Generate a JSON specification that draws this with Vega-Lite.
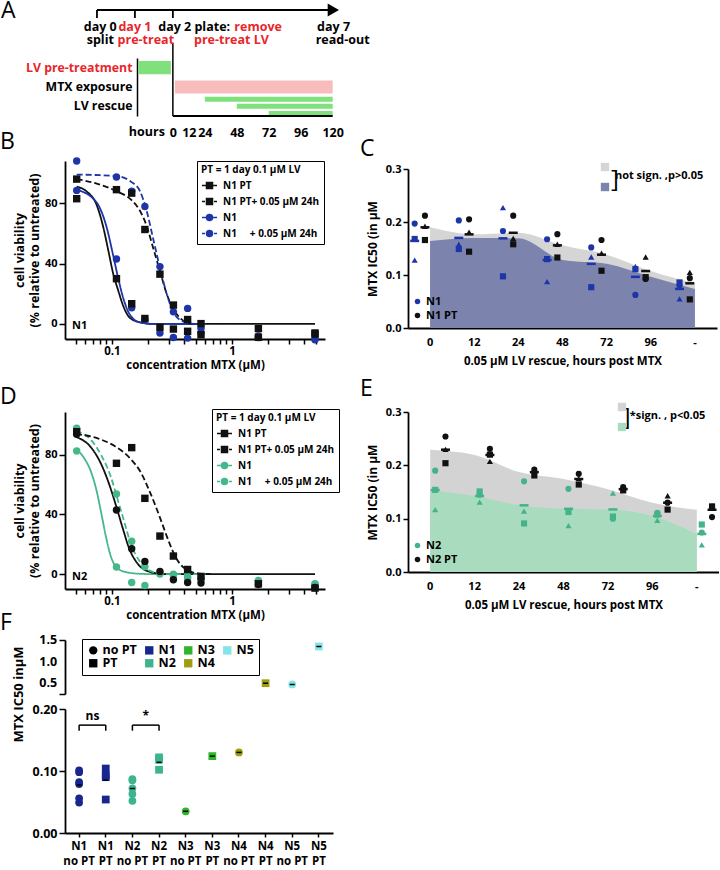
{
"$schema": "https://vega.github.io/schema/vega-lite/v6.json",
"padding": 0,
"config": {
  "font": "Open Sans",
  "view": {"stroke": null},
  "axis": {"labelFont": "Open Sans", "labelFontWeight": "bold", "labelFontSize": 11, "labelColor": "#000", "titleFont": "Open Sans", "titleFontWeight": "bold", "titleFontSize": 11.5, "titleColor": "#000", "domainColor": "#000", "domainWidth": 1.8, "tickColor": "#000", "tickWidth": 1.5, "tickSize": 5, "grid": false, "labelPadding": 2, "labelFlush": false, "labelOverlap": false},
  "legend": {"labelFont": "Open Sans", "labelFontWeight": "bold", "labelColor": "#000", "titleFont": "Open Sans", "titleColor": "#000"},
  "title": {"font": "Open Sans", "fontWeight": "normal", "fontSize": 23, "anchor": "start", "color": "#000", "frame": "group"}
},
"datasets": {
  "aText": [
    {"t": "day 0", "hour": -54.5, "row": 1, "kind": "plain"},
    {"t": "split", "hour": -54.5, "row": 2, "kind": "plain"},
    {"t": "day 1", "hour": -28.5, "row": 1, "kind": "emph"},
    {"t": "pre-treat", "hour": -20.3, "row": 2, "kind": "emph"},
    {"t": "day 2 plate:", "hour": 16, "row": 1, "kind": "plain"},
    {"t": "remove", "hour": 64, "row": 1, "kind": "emph"},
    {"t": "pre-treat LV", "hour": 44, "row": 2, "kind": "emph"},
    {"t": "day 7", "hour": 120.7, "row": 1, "kind": "plain"},
    {"t": "read-out", "hour": 127.5, "row": 2, "kind": "plain"}
  ],
  "bCurve": [
    {"s":"PT","c":0.0508,"v":91},{"s":"PT","c":0.0615,"v":87.8},{"s":"PT","c":0.0745,"v":78.9},{"s":"PT","c":0.0847,"v":64},{"s":"PT","c":0.0932,"v":48.7},{"s":"PT","c":0.1026,"v":33},{"s":"PT","c":0.1129,"v":22},{"s":"PT","c":0.1243,"v":11.8},{"s":"PT","c":0.1413,"v":4},{"s":"PT","c":0.1711,"v":1.1},{"s":"PT","c":0.2211,"v":0},{"s":"PT","c":4.92,"v":0},
    {"s":"N","c":0.0508,"v":89},{"s":"N","c":0.0745,"v":80.5},{"s":"N","c":0.0903,"v":64},{"s":"N","c":0.1026,"v":45},{"s":"N","c":0.1129,"v":30},{"s":"N","c":0.1243,"v":17},{"s":"N","c":0.1413,"v":6},{"s":"N","c":0.1711,"v":1},{"s":"N","c":0.2211,"v":0},{"s":"N","c":0.6,"v":0},
    {"s":"PTLV","c":0.0508,"v":96},{"s":"PTLV","c":0.0745,"v":93},{"s":"PTLV","c":0.109,"v":88},{"s":"PTLV","c":0.1458,"v":82},{"s":"PTLV","c":0.1711,"v":75},{"s":"PTLV","c":0.1945,"v":65},{"s":"PTLV","c":0.2211,"v":50},{"s":"PTLV","c":0.2512,"v":35},{"s":"PTLV","c":0.2855,"v":20},{"s":"PTLV","c":0.3245,"v":10},{"s":"PTLV","c":0.3809,"v":3},{"s":"PTLV","c":0.4762,"v":0},{"s":"PTLV","c":0.6,"v":0},
    {"s":"NLV","c":0.0508,"v":99},{"s":"NLV","c":0.109,"v":98},{"s":"NLV","c":0.1458,"v":94},{"s":"NLV","c":0.1711,"v":88},{"s":"NLV","c":0.1945,"v":75},{"s":"NLV","c":0.2211,"v":56},{"s":"NLV","c":0.2512,"v":37},{"s":"NLV","c":0.2855,"v":20},{"s":"NLV","c":0.3245,"v":8},{"s":"NLV","c":0.3809,"v":2},{"s":"NLV","c":0.4762,"v":0},{"s":"NLV","c":0.6,"v":0}
  ],
  "bPts": [
    {"s":"N","c":0.0508,"v":88.5},{"s":"N","c":0.109,"v":43},{"s":"N","c":0.146,"v":10.7},{"s":"N","c":0.188,"v":3},{"s":"N","c":0.251,"v":-6},{"s":"N","c":0.325,"v":-9},{"s":"N","c":0.427,"v":-9.4},{"s":"N","c":0.552,"v":-3},{"s":"N","c":1.66,"v":-9},{"s":"N","c":4.92,"v":-10.5},
    {"s":"NLV","c":0.0508,"v":108},{"s":"NLV","c":0.109,"v":97.4},{"s":"NLV","c":0.146,"v":88},{"s":"NLV","c":0.188,"v":77.8},{"s":"NLV","c":0.251,"v":38},{"s":"NLV","c":0.325,"v":8},{"s":"NLV","c":0.427,"v":10.3},{"s":"NLV","c":0.552,"v":-6},{"s":"NLV","c":1.66,"v":-8},{"s":"NLV","c":4.92,"v":-10},
    {"s":"PT","c":0.0508,"v":83},{"s":"PT","c":0.109,"v":30},{"s":"PT","c":0.146,"v":13.4},{"s":"PT","c":0.188,"v":3.6},{"s":"PT","c":0.251,"v":-2.2},{"s":"PT","c":0.325,"v":-3.4},{"s":"PT","c":0.427,"v":-4.9},{"s":"PT","c":0.552,"v":-7.2},{"s":"PT","c":1.66,"v":-8.9},{"s":"PT","c":4.92,"v":-6.7},
    {"s":"PTLV","c":0.0508,"v":96},{"s":"PTLV","c":0.109,"v":89},{"s":"PTLV","c":0.146,"v":86.7},{"s":"PTLV","c":0.188,"v":62.6},{"s":"PTLV","c":0.251,"v":33},{"s":"PTLV","c":0.325,"v":12.5},{"s":"PTLV","c":0.427,"v":2.9},{"s":"PTLV","c":0.552,"v":0.2},{"s":"PTLV","c":1.66,"v":-3.1},{"s":"PTLV","c":4.92,"v":-6}
  ],
  "dCurve": [
    {"s":"N","c":0.0501,"v":84},{"s":"N","c":0.0588,"v":77.6},{"s":"N","c":0.0668,"v":68.7},{"s":"N","c":0.0736,"v":57.5},{"s":"N","c":0.081,"v":41.8},{"s":"N","c":0.0891,"v":25},{"s":"N","c":0.0981,"v":11.6},{"s":"N","c":0.108,"v":4.9},{"s":"N","c":0.1266,"v":1.6},{"s":"N","c":0.1637,"v":0.3},{"s":"N","c":0.2112,"v":0},{"s":"N","c":0.6,"v":0},
    {"s":"PT","c":0.0501,"v":92},{"s":"PT","c":0.0668,"v":85},{"s":"PT","c":0.081,"v":74},{"s":"PT","c":0.095,"v":60},{"s":"PT","c":0.108,"v":46},{"s":"PT","c":0.1227,"v":31},{"s":"PT","c":0.1394,"v":17},{"s":"PT","c":0.1637,"v":7},{"s":"PT","c":0.1982,"v":2},{"s":"PT","c":0.2728,"v":0},{"s":"PT","c":4.92,"v":0},
    {"s":"NLV","c":0.0501,"v":96},{"s":"NLV","c":0.0668,"v":90},{"s":"NLV","c":0.081,"v":80},{"s":"NLV","c":0.0981,"v":65},{"s":"NLV","c":0.1115,"v":50},{"s":"NLV","c":0.1266,"v":35},{"s":"NLV","c":0.144,"v":20},{"s":"NLV","c":0.169,"v":9},{"s":"NLV","c":0.1982,"v":3},{"s":"NLV","c":0.2728,"v":0},{"s":"NLV","c":0.6,"v":0},
    {"s":"PTLV","c":0.0501,"v":94},{"s":"PTLV","c":0.076,"v":91},{"s":"PTLV","c":0.1046,"v":86},{"s":"PTLV","c":0.144,"v":77},{"s":"PTLV","c":0.1745,"v":68},{"s":"PTLV","c":0.2046,"v":56},{"s":"PTLV","c":0.2325,"v":45},{"s":"PTLV","c":0.2643,"v":33},{"s":"PTLV","c":0.3003,"v":21},{"s":"PTLV","c":0.341,"v":11},{"s":"PTLV","c":0.4,"v":4},{"s":"PTLV","c":0.517,"v":0.5},{"s":"PTLV","c":0.668,"v":0}
  ],
  "dPts": [
    {"s":"N","c":0.0508,"v":82.5},{"s":"N","c":0.109,"v":4.7},{"s":"N","c":0.146,"v":-5.6},{"s":"N","c":0.188,"v":-7.6},{"s":"N","c":0.251,"v":0},{"s":"N","c":0.325,"v":0},{"s":"N","c":0.427,"v":-1.6},{"s":"N","c":0.552,"v":-3},{"s":"N","c":1.66,"v":-4.2},{"s":"N","c":4.92,"v":-6.5},
    {"s":"NLV","c":0.0508,"v":97.8},{"s":"NLV","c":0.109,"v":53.7},{"s":"NLV","c":0.146,"v":22},{"s":"NLV","c":0.188,"v":5},{"s":"NLV","c":0.251,"v":1},{"s":"NLV","c":0.325,"v":-1},{"s":"NLV","c":0.427,"v":-3},{"s":"NLV","c":0.552,"v":-4},{"s":"NLV","c":1.66,"v":-5},{"s":"NLV","c":4.92,"v":-7},
    {"s":"PT","c":0.0508,"v":93.7},{"s":"PT","c":0.109,"v":43},{"s":"PT","c":0.146,"v":17},{"s":"PT","c":0.188,"v":8.5},{"s":"PT","c":0.251,"v":1.8},{"s":"PT","c":0.325,"v":-3.8},{"s":"PT","c":0.427,"v":-5.6},{"s":"PT","c":0.552,"v":-6},{"s":"PT","c":1.66,"v":-7},{"s":"PT","c":4.92,"v":-9},
    {"s":"PTLV","c":0.0508,"v":95.5},{"s":"PTLV","c":0.109,"v":74.3},{"s":"PTLV","c":0.146,"v":84.8},{"s":"PTLV","c":0.188,"v":50.8},{"s":"PTLV","c":0.251,"v":25.5},{"s":"PTLV","c":0.325,"v":12.1},{"s":"PTLV","c":0.427,"v":3.1},{"s":"PTLV","c":0.552,"v":-1.6},{"s":"PTLV","c":1.66,"v":-6.5},{"s":"PTLV","c":4.92,"v":-9.4}
  ],
  "cPts": [
    {"t":"0","g":"N1 PT","r":"c","v":0.212},{"t":"0","g":"N1 PT","r":"s","v":0.166},{"t":"0","g":"N1 PT","r":"t","v":0.192},
    {"t":"12","g":"N1 PT","r":"c","v":0.205},{"t":"12","g":"N1 PT","r":"s","v":0.144},{"t":"12","g":"N1 PT","r":"t","v":0.181},
    {"t":"24","g":"N1 PT","r":"c","v":0.212},{"t":"24","g":"N1 PT","r":"s","v":0.158},{"t":"24","g":"N1 PT","r":"t","v":0.169},
    {"t":"48","g":"N1 PT","r":"c","v":0.177},{"t":"48","g":"N1 PT","r":"s","v":0.133},{"t":"48","g":"N1 PT","r":"t","v":0.158},
    {"t":"72","g":"N1 PT","r":"c","v":0.166},{"t":"72","g":"N1 PT","r":"s","v":0.108},{"t":"72","g":"N1 PT","r":"t","v":0.141},
    {"t":"96","g":"N1 PT","r":"c","v":0.0925},{"t":"96","g":"N1 PT","r":"s","v":0.096},{"t":"96","g":"N1 PT","r":"t","v":0.134},
    {"t":"-","g":"N1 PT","r":"c","v":0.094},{"t":"-","g":"N1 PT","r":"s","v":0.054},{"t":"-","g":"N1 PT","r":"t","v":0.105},
    {"t":"0","g":"N1","r":"c","v":0.197},{"t":"0","g":"N1","r":"s","v":0.168},{"t":"0","g":"N1","r":"t","v":0.128},
    {"t":"12","g":"N1","r":"c","v":0.203},{"t":"12","g":"N1","r":"s","v":0.149},{"t":"12","g":"N1","r":"t","v":0.158},
    {"t":"24","g":"N1","r":"c","v":0.183},{"t":"24","g":"N1","r":"s","v":0.0975},{"t":"24","g":"N1","r":"t","v":0.227},
    {"t":"48","g":"N1","r":"c","v":0.1675},{"t":"48","g":"N1","r":"s","v":0.13},{"t":"48","g":"N1","r":"t","v":0.0875},
    {"t":"72","g":"N1","r":"c","v":0.152},{"t":"72","g":"N1","r":"s","v":0.077},{"t":"72","g":"N1","r":"t","v":0.134},
    {"t":"96","g":"N1","r":"c","v":0.0625},{"t":"96","g":"N1","r":"s","v":0.111},{"t":"96","g":"N1","r":"t","v":0.116},
    {"t":"-","g":"N1","r":"c","v":0.08},{"t":"-","g":"N1","r":"s","v":0.086},{"t":"-","g":"N1","r":"t","v":0.055}
  ],
  "ePts": [
    {"t":"0","g":"N2 PT","r":"c","v":0.254},{"t":"0","g":"N2 PT","r":"s","v":0.204},{"t":"0","g":"N2 PT","r":"t","v":0.23},
    {"t":"12","g":"N2 PT","r":"c","v":0.231},{"t":"12","g":"N2 PT","r":"s","v":0.22},{"t":"12","g":"N2 PT","r":"t","v":0.2075},
    {"t":"24","g":"N2 PT","r":"c","v":0.192},{"t":"24","g":"N2 PT","r":"s","v":0.181},{"t":"24","g":"N2 PT","r":"t","v":0.189},
    {"t":"48","g":"N2 PT","r":"c","v":0.184},{"t":"48","g":"N2 PT","r":"s","v":0.164},{"t":"48","g":"N2 PT","r":"t","v":0.175},
    {"t":"72","g":"N2 PT","r":"c","v":0.159},{"t":"72","g":"N2 PT","r":"s","v":0.153},{"t":"72","g":"N2 PT","r":"t","v":0.154},
    {"t":"96","g":"N2 PT","r":"c","v":0.13},{"t":"96","g":"N2 PT","r":"s","v":0.117},{"t":"96","g":"N2 PT","r":"t","v":0.143},
    {"t":"-","g":"N2 PT","r":"c","v":0.103},{"t":"-","g":"N2 PT","r":"s","v":0.123},{"t":"-","g":"N2 PT","r":"t","v":0.124},
    {"t":"0","g":"N2","r":"c","v":0.19},{"t":"0","g":"N2","r":"s","v":0.154},{"t":"0","g":"N2","r":"t","v":0.117},
    {"t":"12","g":"N2","r":"c","v":0.145},{"t":"12","g":"N2","r":"s","v":0.151},{"t":"12","g":"N2","r":"t","v":0.131},
    {"t":"24","g":"N2","r":"c","v":0.17},{"t":"24","g":"N2","r":"s","v":0.091},{"t":"24","g":"N2","r":"t","v":0.114},
    {"t":"48","g":"N2","r":"c","v":0.156},{"t":"48","g":"N2","r":"s","v":0.1125},{"t":"48","g":"N2","r":"t","v":0.087},
    {"t":"72","g":"N2","r":"c","v":0.1},{"t":"72","g":"N2","r":"s","v":0.104},{"t":"72","g":"N2","r":"t","v":0.148},
    {"t":"96","g":"N2","r":"c","v":0.111},{"t":"96","g":"N2","r":"s","v":0.1075},{"t":"96","g":"N2","r":"t","v":0.097},
    {"t":"-","g":"N2","r":"c","v":0.074},{"t":"-","g":"N2","r":"s","v":0.089},{"t":"-","g":"N2","r":"t","v":0.051}
  ],
  "fPts": [
    {"cat":"N1|no PT","line":"N1","pt":"no PT","v":0.101},{"cat":"N1|no PT","line":"N1","pt":"no PT","v":0.098},{"cat":"N1|no PT","line":"N1","pt":"no PT","v":0.082},{"cat":"N1|no PT","line":"N1","pt":"no PT","v":0.079},{"cat":"N1|no PT","line":"N1","pt":"no PT","v":0.056},{"cat":"N1|no PT","line":"N1","pt":"no PT","v":0.049},
    {"cat":"N1|PT","line":"N1","pt":"PT","v":0.104},{"cat":"N1|PT","line":"N1","pt":"PT","v":0.093},{"cat":"N1|PT","line":"N1","pt":"PT","v":0.09},{"cat":"N1|PT","line":"N1","pt":"PT","v":0.054},
    {"cat":"N2|no PT","line":"N2","pt":"no PT","v":0.087},{"cat":"N2|no PT","line":"N2","pt":"no PT","v":0.085},{"cat":"N2|no PT","line":"N2","pt":"no PT","v":0.072},{"cat":"N2|no PT","line":"N2","pt":"no PT","v":0.063},{"cat":"N2|no PT","line":"N2","pt":"no PT","v":0.052},
    {"cat":"N2|PT","line":"N2","pt":"PT","v":0.122},{"cat":"N2|PT","line":"N2","pt":"PT","v":0.118},{"cat":"N2|PT","line":"N2","pt":"PT","v":0.102},
    {"cat":"N3|no PT","line":"N3","pt":"no PT","v":0.035},
    {"cat":"N3|PT","line":"N3","pt":"PT","v":0.124},
    {"cat":"N4|no PT","line":"N4","pt":"no PT","v":0.13},
    {"cat":"N4|PT","line":"N4","pt":"PT","v":0.5},
    {"cat":"N5|no PT","line":"N5","pt":"no PT","v":0.47},
    {"cat":"N5|PT","line":"N5","pt":"PT","v":1.35}
  ],
  "fKeys": [{"key":"no PT"},{"key":"PT"},{"key":"N1"},{"key":"N2"},{"key":"N3"},{"key":"N4"},{"key":"N5"}],
  "fBr": [{"a":"N1|no PT","b":"N1|PT","lab":"ns"},{"a":"N2|no PT","b":"N2|PT","lab":"*"}],
  "fUpTicks": [{"v":0.5,"lab":"0.5"},{"v":1,"lab":"1.0"},{"v":1.5,"lab":"1.5"}]
},
"bounds": "flush",
"columns": 2,
"spacing": {"row": 0, "column": 70},
"resolve": {"scale": {"color": "independent", "fill": "independent", "stroke": "independent", "shape": "independent", "strokeDash": "independent", "opacity": "independent", "size": "independent"}},
"concat": [
  {"width": 273, "height": 48,
   "title": {"text": "A", "dx": -64, "offset": -20},
   "layer": [
    {"data": {"values": [{}]}, "mark": {"type": "rule", "strokeWidth": 1.8, "color": "#000"},
     "encoding": {"x": {"datum": -57, "type": "quantitative", "scale": {"domain": [-81, 124], "nice": false}, "axis": null}, "x2": {"datum": 118}, "y": {"datum": 1, "type": "quantitative", "scale": {"domain": [0, 1], "nice": false}, "axis": null}}},
    {"data": {"values": [{}]}, "mark": {"type": "point", "shape": "triangle-right", "filled": true, "size": 170, "color": "#000", "opacity": 1},
     "encoding": {"x": {"datum": 120.5}, "y": {"datum": 1}}},
    {"data": {"values": [{"day": "day 0", "hour": -57}, {"day": "day 1", "hour": -28.5}, {"day": "day 2", "hour": 0}]},
     "mark": {"type": "rule", "strokeWidth": 1.8, "color": "#000"},
     "encoding": {"x": {"field": "hour", "type": "quantitative"}, "y": {"datum": 1}, "y2": {"datum": 0.833}}},
    {"data": {"values": [{}]}, "mark": {"type": "rule", "strokeWidth": 1.5, "color": "#000"},
     "encoding": {"x": {"datum": 0}, "y": {"datum": 0.3125}, "y2": {"datum": 0}}},
    {"data": {"name": "aText"}, "transform": [{"filter": "datum.row == 1"}],
     "mark": {"type": "text", "fontWeight": "bold", "fontSize": 12.5, "baseline": "middle"},
     "encoding": {"x": {"field": "hour", "type": "quantitative"}, "y": {"datum": 0.64}, "text": {"field": "t"},
       "color": {"field": "kind", "type": "nominal", "scale": {"domain": ["plain", "emph"], "range": ["#000", "#e8262b"]}, "legend": null}}},
    {"data": {"name": "aText"}, "transform": [{"filter": "datum.row == 2"}],
     "mark": {"type": "text", "fontWeight": "bold", "fontSize": 12.5, "baseline": "middle"},
     "encoding": {"x": {"field": "hour", "type": "quantitative"}, "y": {"datum": 0.38}, "text": {"field": "t"},
       "color": {"field": "kind", "type": "nominal", "legend": null}}}
   ]},
  {"width": 1, "height": 1, "data": {"values": []}, "mark": "point"},
  {"width": 273, "height": 58,
   "layer": [
    {"data": {"values": [{"lane": "LV pre-treatment", "agent": "LV", "start": -26, "end": -1.5}, {"lane": "MTX exposure", "agent": "MTX", "start": 1.5, "end": 120}]},
     "mark": {"type": "bar", "height": {"band": 0.68}},
     "encoding": {
      "x": {"field": "start", "type": "quantitative", "scale": {"domain": [-81, 124], "nice": false},
            "axis": {"values": [0, 12, 24, 48, 72, 96, 120], "domain": false, "ticks": false, "title": null, "labelPadding": 10, "labelFontSize": 12.5, "labelOverlap": false}},
      "x2": {"field": "end"},
      "y": {"field": "lane", "type": "nominal", "scale": {"domain": ["LV pre-treatment", "MTX exposure", "LV rescue"], "paddingInner": 0, "paddingOuter": 0},
            "axis": {"title": null, "offset": -72, "ticks": false, "domain": true, "domainWidth": 1.5, "labelPadding": 5, "labelFontSize": 12.3,
                     "labelColor": {"condition": {"test": "datum.value === 'LV pre-treatment'", "value": "#e8262b"}, "value": "#000"}}},
      "color": {"field": "agent", "type": "nominal", "scale": {"domain": ["LV", "MTX"], "range": ["#80e07c", "#f9bcbc"]}, "legend": null}}},
    {"data": {"values": [{"lane": "LV rescue", "agent": "LV", "start": 24, "end": 120}, {"lane": "LV rescue", "agent": "LV", "start": 48, "end": 120}, {"lane": "LV rescue", "agent": "LV", "start": 72, "end": 120}]},
     "mark": {"type": "bar"},
     "encoding": {"x": {"field": "start", "type": "quantitative"}, "x2": {"field": "end"}, "y": {"field": "lane", "type": "nominal"},
       "yOffset": {"field": "start", "type": "ordinal", "scale": {"paddingInner": 0.3, "paddingOuter": 0}},
       "color": {"field": "agent", "type": "nominal", "legend": null}}},
    {"data": {"values": [{}]}, "mark": {"type": "rule", "strokeWidth": 1.5, "color": "#000"}, "encoding": {"x": {"datum": 0}}},
    {"data": {"values": [{}]}, "mark": {"type": "rule", "strokeWidth": 1.8, "color": "#000"}, "encoding": {"x": {"datum": 0}, "x2": {"datum": 120}, "y": {"value": "height"}}},
    {"data": {"values": [{}]}, "mark": {"type": "text", "text": "hours", "fontSize": 12.5, "fontWeight": "bold", "baseline": "top", "dy": 10},
     "encoding": {"x": {"datum": -19.5}, "y": {"value": "height"}}}
   ]},
  {"width": 1, "height": 1, "data": {"values": []}, "mark": "point"},
  {"width": 1, "height": 45, "data": {"values": []}, "mark": "point"},
  {"width": 1, "height": 1, "data": {"values": []}, "mark": "point"},
  {"width": 260, "height": 178,
   "title": {"text": "B", "dx": -65, "dy": 1},
   "resolve": {"scale": {"shape": "independent", "fill": "independent", "stroke": "independent"}},
   "layer": [
    {"data": {"name": "bCurve"}, "mark": {"type": "line", "strokeWidth": 1.8, "interpolate": "monotone"},
     "encoding": {
      "x": {"field": "c", "type": "quantitative", "scale": {"type": "log", "domain": [0.0406, 5.96], "nice": false},
            "axis": {"title": "concentration MTX (μM)", "values": [0.05,0.06,0.07,0.08,0.09,0.1,0.2,0.3,0.4,0.5,0.6,0.7,0.8,0.9,1,2,3,4,5], "labelExpr": "datum.value == 0.1 || datum.value == 1 ? datum.label : ''", "format": "~g", "labelFontSize": 11.5, "labelPadding": 1, "titlePadding": 3, "labelOverlap": false}},
      "y": {"field": "v", "type": "quantitative", "scale": {"domain": [-10, 108], "nice": false},
            "axis": {"title": ["cell viability", "(% relative to untreated)"], "values": [0,20,40,60,80,100], "titleFontSize": 12.5, "titlePadding": 3, "titleLineHeight": 15, "tickSize": 6}},
      "color": {"field": "s", "type": "nominal", "scale": {"domain": ["PT","PTLV","N","NLV"], "range": ["#111","#111","#1d35a8","#1d35a8"]}, "legend": null},
      "strokeDash": {"field": "s", "type": "nominal", "scale": {"domain": ["PT","PTLV","N","NLV"], "range": [[1,0],[6,3],[1,0],[6,3]]}, "legend": null}}},
    {"data": {"name": "bPts"}, "mark": {"type": "point", "filled": true, "size": 55, "opacity": 1},
     "encoding": {"x": {"field": "c", "type": "quantitative"}, "y": {"field": "v", "type": "quantitative"},
      "color": {"field": "s", "type": "nominal", "legend": null},
      "shape": {"field": "s", "type": "nominal", "scale": {"domain": ["PT","PTLV","N","NLV"], "range": ["square","square","circle","circle"]}, "legend": null}}},
    {"data": {"name": "bPts"}, "mark": {"type": "point", "filled": true, "opacity": 0, "strokeWidth": 1.5},
     "encoding": {"x": {"field": "c", "type": "quantitative"}, "y": {"field": "v", "type": "quantitative"},
      "fill": {"field": "s", "type": "nominal", "scale": {"domain": ["PT","PTLV","N","NLV"], "range": ["#111","#111","#1d35a8","#1d35a8"]},
        "legend": {"orient": "none", "legendX": 132, "legendY": 0, "title": "PT = 1 day 0.1 μM LV", "titleFontSize": 10, "titleFontWeight": "bold", "labelFontSize": 10, "strokeColor": "#000", "padding": 4, "symbolSize": 225, "symbolStrokeWidth": 1.5, "symbolOpacity": 1, "rowPadding": 1, "titlePadding": 2, "labelOffset": 5,
          "labelExpr": "datum.value == 'PT' ? 'N1 PT' : datum.value == 'PTLV' ? 'N1 PT+ 0.05 μM 24h' : datum.value == 'N' ? 'N1' : 'N1\u00a0\u00a0\u00a0\u00a0\u00a0+ 0.05 μM 24h'"}},
      "stroke": {"field": "s", "type": "nominal", "scale": {"domain": ["PT","PTLV","N","NLV"], "range": ["#111","#111","#1d35a8","#1d35a8"]},
        "legend": {"orient": "none", "legendX": 132, "legendY": 0, "title": "PT = 1 day 0.1 μM LV", "titleFontSize": 10, "titleFontWeight": "bold", "labelFontSize": 10, "strokeColor": "#000", "padding": 4, "symbolSize": 225, "symbolStrokeWidth": 1.5, "symbolOpacity": 1, "rowPadding": 1, "titlePadding": 2, "labelOffset": 5,
          "labelExpr": "datum.value == 'PT' ? 'N1 PT' : datum.value == 'PTLV' ? 'N1 PT+ 0.05 μM 24h' : datum.value == 'N' ? 'N1' : 'N1\u00a0\u00a0\u00a0\u00a0\u00a0+ 0.05 μM 24h'"}},
      "shape": {"field": "s", "type": "nominal", "scale": {"domain": ["PT","PTLV","N","NLV"], "range": ["M-1,0H1M-0.4,-0.4H0.4V0.4H-0.4Z", "M-1,0H-0.6M0.6,0H1M-0.4,-0.4H0.4V0.4H-0.4Z", "M-1,0H1M-0.4,0A0.4,0.4,0,1,1,0.4,0A0.4,0.4,0,1,1,-0.4,0Z", "M-1,0H-0.6M0.6,0H1M-0.4,0A0.4,0.4,0,1,1,0.4,0A0.4,0.4,0,1,1,-0.4,0Z"]},
        "legend": {"orient": "none", "legendX": 132, "legendY": 0, "title": "PT = 1 day 0.1 μM LV", "titleFontSize": 10, "titleFontWeight": "bold", "labelFontSize": 10, "strokeColor": "#000", "padding": 4, "symbolSize": 225, "symbolStrokeWidth": 1.5, "symbolOpacity": 1, "rowPadding": 1, "titlePadding": 2, "labelOffset": 5,
          "labelExpr": "datum.value == 'PT' ? 'N1 PT' : datum.value == 'PTLV' ? 'N1 PT+ 0.05 μM 24h' : datum.value == 'N' ? 'N1' : 'N1\u00a0\u00a0\u00a0\u00a0\u00a0+ 0.05 μM 24h'"}}}},
    {"data": {"values": [{}]}, "mark": {"type": "text", "text": "N1", "align": "left", "baseline": "middle", "fontWeight": "bold", "fontSize": 11},
     "encoding": {"x": {"datum": 0.0464}, "y": {"datum": -1.7}}}
   ]},
  {"width": 309, "height": 167,
   "title": {"text": "C", "dx": -48, "dy": 4},
   "layer": [
    {"data": {"name": "cPts"}, "transform": [{"filter": "datum.g == 'N1 PT'"}],
     "mark": {"type": "area", "interpolate": "monotone"},
     "encoding": {
      "x": {"field": "t", "type": "ordinal", "sort": ["0","12","24","48","72","96","-"], "scale": {"type": "band", "domain": ["0","12","24","48","72","96","-"], "paddingInner": 0, "paddingOuter": -0.08},
            "axis": {"title": "0.05 μM LV rescue, hours post MTX", "ticks": false, "labelAngle": 0, "labelPadding": 8, "titlePadding": 8, "labelFontSize": 11, "titleFontSize": 11.5}},
      "y": {"aggregate": "mean", "field": "v", "type": "quantitative", "stack": null, "scale": {"domain": [0, 0.3], "nice": false, "range": [167, 8]},
            "axis": {"title": "MTX IC50 (in μM", "values": [0, 0.1, 0.2, 0.3], "format": ".1f", "titlePadding": 6, "titleFontSize": 12}},
      "fill": {"field": "g", "type": "nominal", "scale": {"domain": ["N1 PT", "N1"], "range": ["#d5d5d5", "#7c83ac"]},
        "legend": {"orient": "none", "legendX": 192, "legendY": 1, "title": null, "labelExpr": "''", "symbolType": "square", "symbolSize": 70, "rowPadding": 10, "symbolStrokeWidth": 0, "symbolOpacity": 1}}}},
    {"data": {"name": "cPts"}, "transform": [{"filter": "datum.g == 'N1'"}],
     "mark": {"type": "area", "interpolate": "monotone"},
     "encoding": {
      "x": {"field": "t", "type": "ordinal", "sort": ["0","12","24","48","72","96","-"]},
      "y": {"aggregate": "mean", "field": "v", "type": "quantitative", "stack": null},
      "fill": {"field": "g", "type": "nominal"}}},
    {"data": {"name": "cPts"}, "mark": {"type": "point", "filled": true, "size": 38, "opacity": 1},
     "encoding": {
      "x": {"field": "t", "type": "ordinal", "sort": ["0","12","24","48","72","96","-"]},
      "xOffset": {"field": "g", "type": "nominal", "scale": {"domain": ["N1", "N1 PT"], "paddingOuter": 0.15}},
      "y": {"field": "v", "type": "quantitative"},
      "color": {"field": "g", "type": "nominal", "scale": {"domain": ["N1", "N1 PT"], "range": ["#1d35a8", "#111"]},
        "legend": {"orient": "none", "legendX": 4, "legendY": 135, "title": null, "labelFontSize": 11, "symbolSize": 30, "rowPadding": 2, "labelOffset": 3, "symbolType": "circle", "symbolOpacity": 1}},
      "shape": {"field": "r", "type": "nominal", "scale": {"domain": ["c", "s", "t"], "range": ["circle", "square", "triangle-up"]}, "legend": null}}},
    {"data": {"name": "cPts"}, "mark": {"type": "tick", "thickness": 2.5, "size": 9, "opacity": 1},
     "encoding": {
      "x": {"field": "t", "type": "ordinal", "sort": ["0","12","24","48","72","96","-"]},
      "xOffset": {"field": "g", "type": "nominal"},
      "y": {"aggregate": "mean", "field": "v", "type": "quantitative"},
      "color": {"field": "g", "type": "nominal", "legend": null}}},
    {"data": {"values": [{}]}, "mark": {"type": "text", "text": "]", "fontSize": 24, "fontWeight": "normal", "align": "left", "baseline": "middle", "dx": -84},
     "encoding": {"x": {"datum": "-"}, "y": {"datum": 0.279}}},
    {"data": {"values": [{}]}, "mark": {"type": "text", "text": "not sign. ,p>0.05", "fontSize": 11, "fontWeight": "bold", "align": "left", "baseline": "middle", "dx": -80},
     "encoding": {"x": {"datum": "-"}, "y": {"datum": 0.287}}}
   ]},
  {"width": 1, "height": 73, "data": {"values": []}, "mark": "point"},
  {"width": 1, "height": 1, "data": {"values": []}, "mark": "point"},
  {"width": 260, "height": 177,
   "title": {"text": "D", "dx": -65, "dy": 4},
   "resolve": {"scale": {"shape": "independent", "fill": "independent", "stroke": "independent"}},
   "layer": [
    {"data": {"name": "dCurve"}, "mark": {"type": "line", "strokeWidth": 1.8, "interpolate": "monotone"},
     "encoding": {
      "x": {"field": "c", "type": "quantitative", "scale": {"type": "log", "domain": [0.0406, 5.96], "nice": false},
            "axis": {"title": "concentration MTX (μM)", "values": [0.05,0.06,0.07,0.08,0.09,0.1,0.2,0.3,0.4,0.5,0.6,0.7,0.8,0.9,1,2,3,4,5], "labelExpr": "datum.value == 0.1 || datum.value == 1 ? datum.label : ''", "format": "~g", "labelFontSize": 11.5, "labelPadding": 1, "titlePadding": 3, "labelOverlap": false}},
      "y": {"field": "v", "type": "quantitative", "scale": {"domain": [-10, 108.7], "nice": false},
            "axis": {"title": ["cell viability", "(% relative to untreated)"], "values": [0,20,40,60,80,100], "titleFontSize": 12.5, "titlePadding": 3, "titleLineHeight": 15, "tickSize": 6}},
      "color": {"field": "s", "type": "nominal", "scale": {"domain": ["PT","PTLV","N","NLV"], "range": ["#111","#111","#45b88a","#45b88a"]}, "legend": null},
      "strokeDash": {"field": "s", "type": "nominal", "scale": {"domain": ["PT","PTLV","N","NLV"], "range": [[1,0],[6,3],[1,0],[6,3]]}, "legend": null}}},
    {"data": {"name": "dPts"}, "mark": {"type": "point", "filled": true, "size": 55, "opacity": 1},
     "encoding": {"x": {"field": "c", "type": "quantitative"}, "y": {"field": "v", "type": "quantitative"},
      "color": {"field": "s", "type": "nominal", "legend": null},
      "shape": {"field": "s", "type": "nominal", "scale": {"domain": ["PT","PTLV","N","NLV"], "range": ["circle","square","circle","circle"]}, "legend": null}}},
    {"data": {"name": "dPts"}, "mark": {"type": "point", "filled": true, "opacity": 0, "strokeWidth": 1.5},
     "encoding": {"x": {"field": "c", "type": "quantitative"}, "y": {"field": "v", "type": "quantitative"},
      "fill": {"field": "s", "type": "nominal", "scale": {"domain": ["PT","PTLV","N","NLV"], "range": ["#111","#111","#45b88a","#45b88a"]},
        "legend": {"orient": "none", "legendX": 147, "legendY": -3, "title": "PT = 1 day 0.1 μM LV", "titleFontSize": 10, "titleFontWeight": "bold", "labelFontSize": 10, "strokeColor": "#000", "padding": 4, "symbolSize": 225, "symbolStrokeWidth": 1.5, "symbolOpacity": 1, "rowPadding": 1, "titlePadding": 2, "labelOffset": 5,
          "labelExpr": "datum.value == 'PT' ? 'N1 PT' : datum.value == 'PTLV' ? 'N1 PT+ 0.05 μM 24h' : datum.value == 'N' ? 'N1' : 'N1\u00a0\u00a0\u00a0\u00a0\u00a0+ 0.05 μM 24h'"}},
      "stroke": {"field": "s", "type": "nominal", "scale": {"domain": ["PT","PTLV","N","NLV"], "range": ["#111","#111","#45b88a","#45b88a"]},
        "legend": {"orient": "none", "legendX": 147, "legendY": -3, "title": "PT = 1 day 0.1 μM LV", "titleFontSize": 10, "titleFontWeight": "bold", "labelFontSize": 10, "strokeColor": "#000", "padding": 4, "symbolSize": 225, "symbolStrokeWidth": 1.5, "symbolOpacity": 1, "rowPadding": 1, "titlePadding": 2, "labelOffset": 5,
          "labelExpr": "datum.value == 'PT' ? 'N1 PT' : datum.value == 'PTLV' ? 'N1 PT+ 0.05 μM 24h' : datum.value == 'N' ? 'N1' : 'N1\u00a0\u00a0\u00a0\u00a0\u00a0+ 0.05 μM 24h'"}},
      "shape": {"field": "s", "type": "nominal", "scale": {"domain": ["PT","PTLV","N","NLV"], "range": ["M-1,0H1M-0.4,-0.4H0.4V0.4H-0.4Z", "M-1,0H-0.6M0.6,0H1M-0.4,-0.4H0.4V0.4H-0.4Z", "M-1,0H1M-0.4,0A0.4,0.4,0,1,1,0.4,0A0.4,0.4,0,1,1,-0.4,0Z", "M-1,0H-0.6M0.6,0H1M-0.4,0A0.4,0.4,0,1,1,0.4,0A0.4,0.4,0,1,1,-0.4,0Z"]},
        "legend": {"orient": "none", "legendX": 147, "legendY": -3, "title": "PT = 1 day 0.1 μM LV", "titleFontSize": 10, "titleFontWeight": "bold", "labelFontSize": 10, "strokeColor": "#000", "padding": 4, "symbolSize": 225, "symbolStrokeWidth": 1.5, "symbolOpacity": 1, "rowPadding": 1, "titlePadding": 2, "labelOffset": 5,
          "labelExpr": "datum.value == 'PT' ? 'N1 PT' : datum.value == 'PTLV' ? 'N1 PT+ 0.05 μM 24h' : datum.value == 'N' ? 'N1' : 'N1\u00a0\u00a0\u00a0\u00a0\u00a0+ 0.05 μM 24h'"}}}},
    {"data": {"values": [{}]}, "mark": {"type": "text", "text": "N2", "align": "left", "baseline": "middle", "fontWeight": "bold", "fontSize": 11},
     "encoding": {"x": {"datum": 0.0464}, "y": {"datum": -1.7}}}
   ]},
  {"width": 311, "height": 160,
   "title": {"text": "E", "dx": -48, "dy": 3},
   "layer": [
    {"data": {"name": "ePts"}, "transform": [{"filter": "datum.g == 'N2 PT'"}],
     "mark": {"type": "area", "interpolate": "monotone"},
     "encoding": {
      "x": {"field": "t", "type": "ordinal", "sort": ["0","12","24","48","72","96","-"], "scale": {"type": "band", "domain": ["0","12","24","48","72","96","-"], "paddingInner": 0, "paddingOuter": -0.06},
            "axis": {"title": "0.05 μM LV rescue, hours post MTX", "ticks": false, "labelAngle": 0, "labelPadding": 8, "titlePadding": 8, "labelFontSize": 11, "titleFontSize": 11.5}},
      "y": {"aggregate": "mean", "field": "v", "type": "quantitative", "stack": null, "scale": {"domain": [0, 0.3], "nice": false},
            "axis": {"title": "MTX IC50 (in μM", "values": [0, 0.1, 0.2, 0.3], "format": ".1f", "titlePadding": 6, "titleFontSize": 12}},
      "fill": {"field": "g", "type": "nominal", "scale": {"domain": ["N2 PT", "N2"], "range": ["#d3d3d3", "#a9dcbf"]},
        "legend": {"orient": "none", "legendX": 209, "legendY": -10, "title": null, "labelExpr": "''", "symbolType": "square", "symbolSize": 70, "rowPadding": 10, "symbolStrokeWidth": 0, "symbolOpacity": 1}}}},
    {"data": {"name": "ePts"}, "transform": [{"filter": "datum.g == 'N2'"}],
     "mark": {"type": "area", "interpolate": "monotone"},
     "encoding": {
      "x": {"field": "t", "type": "ordinal", "sort": ["0","12","24","48","72","96","-"]},
      "y": {"aggregate": "mean", "field": "v", "type": "quantitative", "stack": null},
      "fill": {"field": "g", "type": "nominal"}}},
    {"data": {"name": "ePts"}, "mark": {"type": "point", "filled": true, "size": 38, "opacity": 1},
     "encoding": {
      "x": {"field": "t", "type": "ordinal", "sort": ["0","12","24","48","72","96","-"]},
      "xOffset": {"field": "g", "type": "nominal", "scale": {"domain": ["N2", "N2 PT"], "paddingOuter": 0.15}},
      "y": {"field": "v", "type": "quantitative"},
      "color": {"field": "g", "type": "nominal", "scale": {"domain": ["N2", "N2 PT"], "range": ["#44b389", "#111"]},
        "legend": {"orient": "none", "legendX": 4, "legendY": 128, "title": null, "labelFontSize": 11, "symbolSize": 30, "rowPadding": 2, "labelOffset": 3, "symbolType": "circle", "symbolOpacity": 1}},
      "shape": {"field": "r", "type": "nominal", "scale": {"domain": ["c", "s", "t"], "range": ["circle", "square", "triangle-up"]}, "legend": null}}},
    {"data": {"name": "ePts"}, "mark": {"type": "tick", "thickness": 2.5, "size": 9, "opacity": 1},
     "encoding": {
      "x": {"field": "t", "type": "ordinal", "sort": ["0","12","24","48","72","96","-"]},
      "xOffset": {"field": "g", "type": "nominal"},
      "y": {"aggregate": "mean", "field": "v", "type": "quantitative"},
      "color": {"field": "g", "type": "nominal", "legend": null}}},
    {"data": {"values": [{}]}, "mark": {"type": "text", "text": "]", "fontSize": 24, "fontWeight": "normal", "align": "left", "baseline": "middle", "dx": -74},
     "encoding": {"x": {"datum": "-"}, "y": {"datum": 0.288}}},
    {"data": {"values": [{}]}, "mark": {"type": "text", "text": "*sign. , p<0.05", "fontSize": 11, "fontWeight": "bold", "align": "left", "baseline": "middle", "dx": -67},
     "encoding": {"x": {"datum": "-"}, "y": {"datum": 0.292}}}
   ]},
  {"width": 1, "height": 51, "data": {"values": []}, "mark": "point"},
  {"width": 1, "height": 1, "data": {"values": []}, "mark": "point"},
  {"width": 268, "height": 54,
   "title": {"text": "F", "dx": -65, "dy": 5},
   "resolve": {"scale": {"color": "independent", "shape": "independent"}},
   "layer": [
    {"data": {"name": "fPts"}, "transform": [{"filter": "datum.v > 0.2"}],
     "mark": {"type": "point", "filled": true, "size": 60, "opacity": 1},
     "encoding": {
      "x": {"field": "cat", "type": "nominal", "scale": {"domain": ["N1|no PT","N1|PT","N2|no PT","N2|PT","N3|no PT","N3|PT","N4|no PT","N4|PT","N5|no PT","N5|PT"], "paddingInner": 0, "paddingOuter": 0.03}, "axis": null},
      "y": {"field": "v", "type": "quantitative", "scale": {"domain": [0.25, 1.5], "nice": false, "zero": false},
            "axis": {"values": [0.25, 0.5, 1, 1.5], "labels": false, "title": null, "tickSize": 6}},
      "color": {"field": "line", "type": "nominal", "scale": {"domain": ["N1","N2","N3","N4","N5"], "range": ["#19268f","#3cb48f","#2fb52a","#9d9c12","#84e4e6"]}, "legend": null},
      "shape": {"field": "pt", "type": "nominal", "scale": {"domain": ["no PT","PT"], "range": ["circle","square"]}, "legend": null}}},
    {"data": {"name": "fPts"}, "transform": [{"filter": "datum.v > 0.2"}],
     "mark": {"type": "tick", "color": "#000", "thickness": 1.5, "size": 5, "opacity": 1},
     "encoding": {"x": {"field": "cat", "type": "nominal"}, "y": {"aggregate": "mean", "field": "v", "type": "quantitative"}}},
    {"data": {"name": "fUpTicks"}, "mark": {"type": "text", "align": "right", "baseline": "middle", "fontWeight": "bold", "fontSize": 12.5, "dx": -22},
     "encoding": {"x": {"datum": "N1|no PT"}, "y": {"field": "v", "type": "quantitative"}, "text": {"field": "lab"}}},
    {"data": {"name": "fKeys"}, "mark": {"type": "point", "filled": true, "opacity": 0},
     "encoding": {
      "color": {"field": "key", "type": "nominal", "scale": {"domain": ["no PT","PT","N1","N2","N3","N4","N5"], "range": ["#000","#000","#19268f","#3cb48f","#2fb52a","#9d9c12","#84e4e6"]},
        "legend": {"orient": "none", "legendX": 17, "legendY": -1, "columns": 4, "title": null, "strokeColor": "#000", "padding": 5, "labelFontSize": 12.5, "symbolSize": 70, "columnPadding": 6, "rowPadding": 0, "labelOffset": 3, "symbolOpacity": 1, "symbolStrokeWidth": 0}},
      "shape": {"field": "key", "type": "nominal", "scale": {"domain": ["no PT","PT","N1","N2","N3","N4","N5"], "range": ["circle","square","square","square","square","square","square"]},
        "legend": {"orient": "none", "legendX": 17, "legendY": -1, "columns": 4, "title": null, "strokeColor": "#000", "padding": 5, "labelFontSize": 12.5, "symbolSize": 70, "columnPadding": 6, "rowPadding": 0, "labelOffset": 3, "symbolOpacity": 1, "symbolStrokeWidth": 0}}}}
   ]},
  {"width": 1, "height": 1, "data": {"values": []}, "mark": "point"},
  {"width": 1, "height": 15, "data": {"values": []}, "mark": "point"},
  {"width": 1, "height": 1, "data": {"values": []}, "mark": "point"},
  {"width": 268, "height": 124,
   "layer": [
    {"data": {"name": "fPts"}, "transform": [{"filter": "datum.v <= 0.2"}],
     "mark": {"type": "point", "filled": true, "size": 60, "opacity": 1},
     "encoding": {
      "x": {"field": "cat", "type": "nominal", "scale": {"domain": ["N1|no PT","N1|PT","N2|no PT","N2|PT","N3|no PT","N3|PT","N4|no PT","N4|PT","N5|no PT","N5|PT"], "paddingInner": 0, "paddingOuter": 0.03},
            "axis": {"labelExpr": "split(datum.label, '|')", "title": null, "labelAngle": 0, "tickSize": 4, "labelPadding": 3, "labelFontSize": 11.5, "labelLineHeight": 15}},
      "y": {"field": "v", "type": "quantitative", "scale": {"domain": [0, 0.2], "nice": false},
            "axis": {"values": [0, 0.05, 0.1, 0.15, 0.2], "format": ".2f", "title": "MTX IC50 inμM", "titleY": -15, "titleAlign": "center", "titleAngle": -90, "titleBaseline": "bottom", "titleFontSize": 13, "labelFontSize": 12.5, "tickSize": 6, "titlePadding": 6}},
      "color": {"field": "line", "type": "nominal", "scale": {"domain": ["N1","N2","N3","N4","N5"], "range": ["#19268f","#3cb48f","#2fb52a","#9d9c12","#84e4e6"]}, "legend": null},
      "shape": {"field": "pt", "type": "nominal", "scale": {"domain": ["no PT","PT"], "range": ["circle","square"]}, "legend": null}}},
    {"data": {"name": "fPts"}, "transform": [{"filter": "datum.v <= 0.2"}],
     "mark": {"type": "tick", "color": "#000", "thickness": 1.5, "size": 5, "opacity": 1},
     "encoding": {"x": {"field": "cat", "type": "nominal"}, "y": {"aggregate": "mean", "field": "v", "type": "quantitative"}}},
    {"data": {"name": "fBr"}, "mark": {"type": "rule", "strokeWidth": 1.5, "color": "#000"},
     "encoding": {"x": {"field": "a", "type": "nominal"}, "x2": {"field": "b"}, "y": {"datum": 0.174}}},
    {"data": {"name": "fBr"}, "mark": {"type": "rule", "strokeWidth": 1.5, "color": "#000"},
     "encoding": {"x": {"field": "a", "type": "nominal"}, "y": {"datum": 0.174}, "y2": {"datum": 0.165}}},
    {"data": {"name": "fBr"}, "mark": {"type": "rule", "strokeWidth": 1.5, "color": "#000"},
     "encoding": {"x": {"field": "b", "type": "nominal"}, "y": {"datum": 0.174}, "y2": {"datum": 0.165}}},
    {"data": {"name": "fBr"}, "mark": {"type": "text", "fontWeight": "bold", "fontSize": 12, "baseline": "bottom", "dx": 13.3, "dy": -2},
     "encoding": {"x": {"field": "a", "type": "nominal"}, "y": {"datum": 0.174}, "text": {"field": "lab"}}}
   ]},
  {"width": 1, "height": 1, "data": {"values": []}, "mark": "point"}
]
}
